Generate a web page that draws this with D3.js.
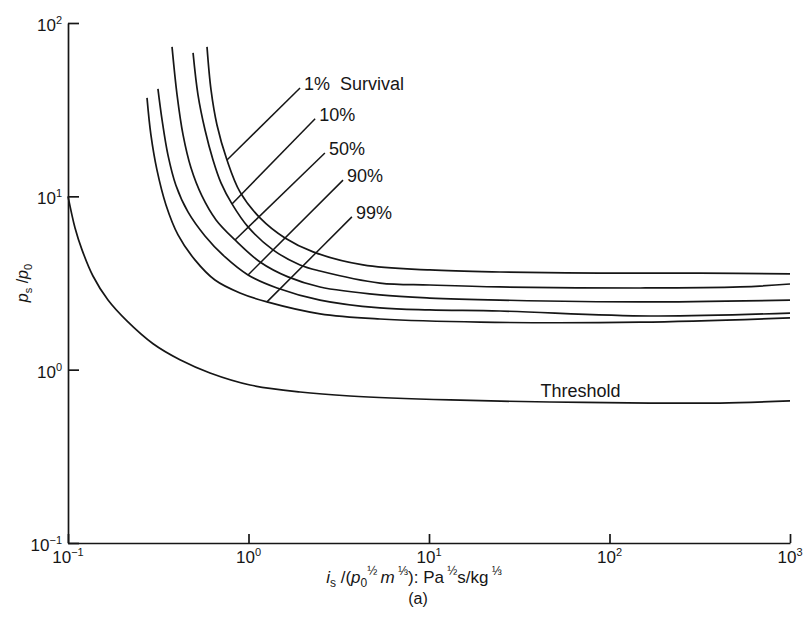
<!DOCTYPE html>
<html>
<head>
<meta charset="utf-8">
<script src="https://cdn.jsdelivr.net/npm/d3@7"></script>
<style>
  body { margin: 0; background: #fff; }
  svg { display: block; font-family: "Liberation Sans", Arial, Helvetica, sans-serif; }
</style>
</head>
<body>
<svg id="chart" width="806" height="635"></svg>
<script>
// Scaled impulse i (x) vs scaled overpressure p (y), log-log
const xTicks = [0.1, 1, 10, 100, 1000];
const yTicks = [0.1, 1, 10, 100];
const xTickExp = ["\u22121", "0", "1", "2", "3"];
const yTickExp = ["\u22121", "0", "1", "2"];

const levels = ["1%  Survival", "10%", "50%", "90%", "99%"];

const threshold = [[0.1, 10], [0.1094, 6.57], [0.1196, 4.91], [0.1375, 3.47], [0.1666, 2.52],
  [0.212, 1.91], [0.296, 1.41], [0.417, 1.14], [0.612, 0.957], [1.02, 0.816], [1.93, 0.743],
  [3.65, 0.705], [13.1, 0.669], [46.8, 0.651], [168, 0.642], [409, 0.642], [1000, 0.660]];

const survival1 = [[0.589, 72.8], [0.620, 41.1], [0.669, 25.8], [0.760, 16.2], [0.897, 10.6],
  [1.158, 7.51], [1.593, 5.75], [2.28, 4.78], [4.31, 4.02], [10.1, 3.76], [24.7, 3.66],
  [88.6, 3.61], [317, 3.61], [1000, 3.57]];

const survival10 = [[0.493, 67.2], [0.525, 38.5], [0.574, 24.2], [0.636, 16.2], [0.704, 11.95],
  [0.810, 9.04], [0.994, 6.66], [1.367, 4.91], [1.93, 4.02], [2.49, 3.71], [5.35, 3.16],
  [10.1, 3.08], [24.7, 3.00], [148, 2.96], [528, 3.00], [1000, 3.12]];

const survival50 = [[0.377, 72.8], [0.402, 38.5], [0.434, 22.6], [0.480, 14.6], [0.552, 10.05],
  [0.661, 7.31], [0.842, 5.60], [1.158, 4.18], [1.655, 3.43], [2.49, 3.00], [5.35, 2.70],
  [10.1, 2.59], [24.7, 2.52], [148, 2.46], [1000, 2.52]];

const survival90 = [[0.315, 41.7], [0.332, 27.6], [0.358, 17.3], [0.396, 11.6], [0.462, 8.13],
  [0.574, 5.91], [0.741, 4.47], [0.994, 3.52], [1.439, 2.96], [2.49, 2.52], [5.35, 2.27],
  [10.1, 2.21], [24.7, 2.18], [168, 2.04], [1000, 2.12]];

const survival99 = [[0.274, 37.0], [0.288, 22.6], [0.311, 14.2], [0.349, 8.92], [0.407, 5.99],
  [0.505, 4.30], [0.652, 3.29], [0.897, 2.77], [1.266, 2.46], [2.49, 2.10], [5.35, 1.96],
  [19.2, 1.88], [148, 1.88], [1000, 1.99]];

// leader lines: point on each curve -> label end
const leaderFrom = [[0.760, 16.2], [0.810, 9.04], [0.842, 5.60], [0.994, 3.52], [1.266, 2.46]];
const leaderTo = [[1.93, 42.2], [2.34, 28.0], [2.65, 17.8], [3.34, 12.4], [3.74, 7.61]];

const thresholdLabel = "Threshold";
const thresholdLabelAt = [115, 0.70];

const svg = d3.select("#chart");
const ink = "#161616";

const x = d3.scaleLog().domain([0.1, 1000]).range([68, 790]);
const y = d3.scaleLog().domain([0.1, 100]).range([543, 23]);

// axes: ticks point inward
const xAxis = svg.append("g")
  .attr("transform", `translate(0,${y(0.1)})`)
  .call(d3.axisBottom(x).tickValues(xTicks).tickSize(-9).tickSizeOuter(0).tickFormat(""));
const yAxis = svg.append("g")
  .attr("transform", `translate(${x(0.1)},0)`)
  .call(d3.axisLeft(y).tickValues(yTicks).tickSize(-11).tickSizeOuter(0).tickFormat(""));
[xAxis, yAxis].forEach(g => {
  g.selectAll("path, line").attr("stroke", ink).attr("stroke-width", 1.7);
});

// power-of-ten tick labels
xTicks.forEach((v, k) => {
  const t = svg.append("text")
    .attr("x", x(v)).attr("y", y(0.1) + 20)
    .attr("text-anchor", "middle").attr("font-size", 17).attr("fill", ink);
  t.append("tspan").text("10");
  t.append("tspan").attr("dy", -7).attr("font-size", 11).text(xTickExp[k]);
});
yTicks.forEach((v, k) => {
  const t = svg.append("text")
    .attr("x", x(0.1) - 6).attr("y", y(v) + 8)
    .attr("text-anchor", "end").attr("font-size", 17).attr("fill", ink);
  t.append("tspan").text("10");
  t.append("tspan").attr("dy", -7).attr("font-size", 11).text(yTickExp[k]);
});

// curves
const line = d3.line()
  .x(d => x(d[0])).y(d => y(d[1]))
  .curve(d3.curveCatmullRom.alpha(0.5));

[threshold, survival1, survival10, survival50, survival90, survival99].forEach(series => {
  svg.append("path")
    .datum(series)
    .attr("d", line)
    .attr("fill", "none")
    .attr("stroke", ink)
    .attr("stroke-width", 1.7)
    .attr("stroke-linejoin", "round");
});

// leaders and survival labels
levels.forEach((name, k) => {
  const a = leaderFrom[k], b = leaderTo[k];
  svg.append("line")
    .attr("x1", x(a[0])).attr("y1", y(a[1]))
    .attr("x2", x(b[0])).attr("y2", y(b[1]))
    .attr("stroke", ink).attr("stroke-width", 1.5);
  svg.append("text")
    .attr("x", x(b[0]) + 4).attr("y", y(b[1]) + 2)
    .attr("font-size", 18).attr("fill", ink)
    .style("white-space", "pre")
    .text(name);
});

svg.append("text")
  .attr("x", x(thresholdLabelAt[0])).attr("y", y(thresholdLabelAt[1]))
  .attr("text-anchor", "end").attr("font-size", 18).attr("fill", ink)
  .text(thresholdLabel);

// x-axis title: i_s/(p0^1/2 m^1/3): Pa^1/2 s/kg^1/3
const xt = svg.append("text")
  .attr("x", 414).attr("y", 583)
  .attr("text-anchor", "middle").attr("font-size", 17).attr("fill", ink)
  .style("white-space", "pre");
const parts = [
  { t: "i", it: true }, { t: "s", sub: true }, { t: " /(" },
  { t: "p", it: true }, { t: "0", sub: true }, { t: "\u00bd ", sup: true },
  { t: "m", it: true }, { t: " \u2153", sup: true }, { t: "): Pa" },
  { t: " \u00bd", sup: true }, { t: "s/kg" }, { t: " \u2153", sup: true }
];
let shift = 0;
parts.forEach(p => {
  const target = p.sub ? 4 : p.sup ? -8 : 0;
  const ts = xt.append("tspan").attr("dy", target - shift).text(p.t);
  if (p.sub || p.sup) ts.attr("font-size", 12);
  if (p.it) ts.attr("font-style", "italic");
  shift = target;
});

svg.append("text")
  .attr("x", 418).attr("y", 604)
  .attr("text-anchor", "middle").attr("font-size", 16).attr("fill", ink)
  .text("(a)");

// y-axis title: p_s / p_0
const yt = svg.append("text")
  .attr("transform", "translate(28,283) rotate(-90)")
  .attr("text-anchor", "middle").attr("font-size", 16).attr("fill", ink);
yt.append("tspan").attr("font-style", "italic").text("p");
yt.append("tspan").attr("dy", 4).attr("font-size", 11).text("s");
yt.append("tspan").attr("dy", -4).text(" /");
yt.append("tspan").attr("font-style", "italic").text("p");
yt.append("tspan").attr("dy", 4).attr("font-size", 11).text("0");
</script>
</body>
</html>
